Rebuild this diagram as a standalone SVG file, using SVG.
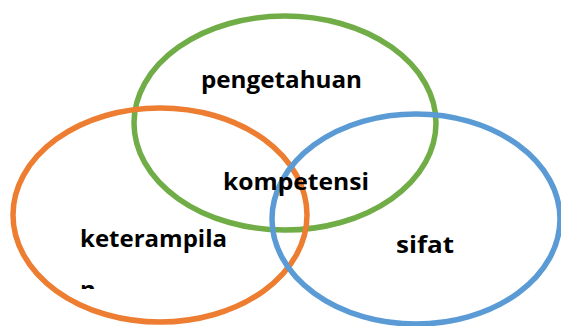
<svg xmlns="http://www.w3.org/2000/svg" width="561" height="326" viewBox="0 0 561 326">
  <style>
    .ring { fill: none; stroke-width: 5.5; }
    .lbl { font-family: "Open Sans", "Noto Sans", "Liberation Sans", sans-serif; font-weight: 700; font-size: 24px; fill: #000; }
  </style>
  <defs>
    <clipPath id="cut"><rect x="0" y="0" width="561" height="289"/></clipPath>
  </defs>
  <rect width="561" height="326" fill="#fff"/>
  <g id="shapes">
    <ellipse id="green" class="ring" cx="285" cy="123" rx="151" ry="107" stroke="#70AD47"/>
    <ellipse id="orange" class="ring" cx="160" cy="215" rx="147" ry="107" stroke="#ED7D31"/>
    <ellipse id="blue" class="ring" cx="416" cy="219" rx="144" ry="105" stroke="#5B9BD5"/>
  </g>
  <g id="node-pengetahuan"><text class="lbl" x="201" y="88" textLength="161" lengthAdjust="spacingAndGlyphs">pengetahuan</text></g>
  <g id="node-kompetensi"><text class="lbl" x="223" y="190" textLength="146" lengthAdjust="spacingAndGlyphs">kompetensi</text></g>
  <g id="node-keterampilan">
    <text class="lbl" x="80" y="247" textLength="147" lengthAdjust="spacingAndGlyphs">keterampila</text>
    <text class="lbl" x="80" y="298" clip-path="url(#cut)">n</text>
  </g>
  <g id="node-sifat"><text class="lbl" x="396" y="253" textLength="58" lengthAdjust="spacingAndGlyphs">sifat</text></g>
</svg>
